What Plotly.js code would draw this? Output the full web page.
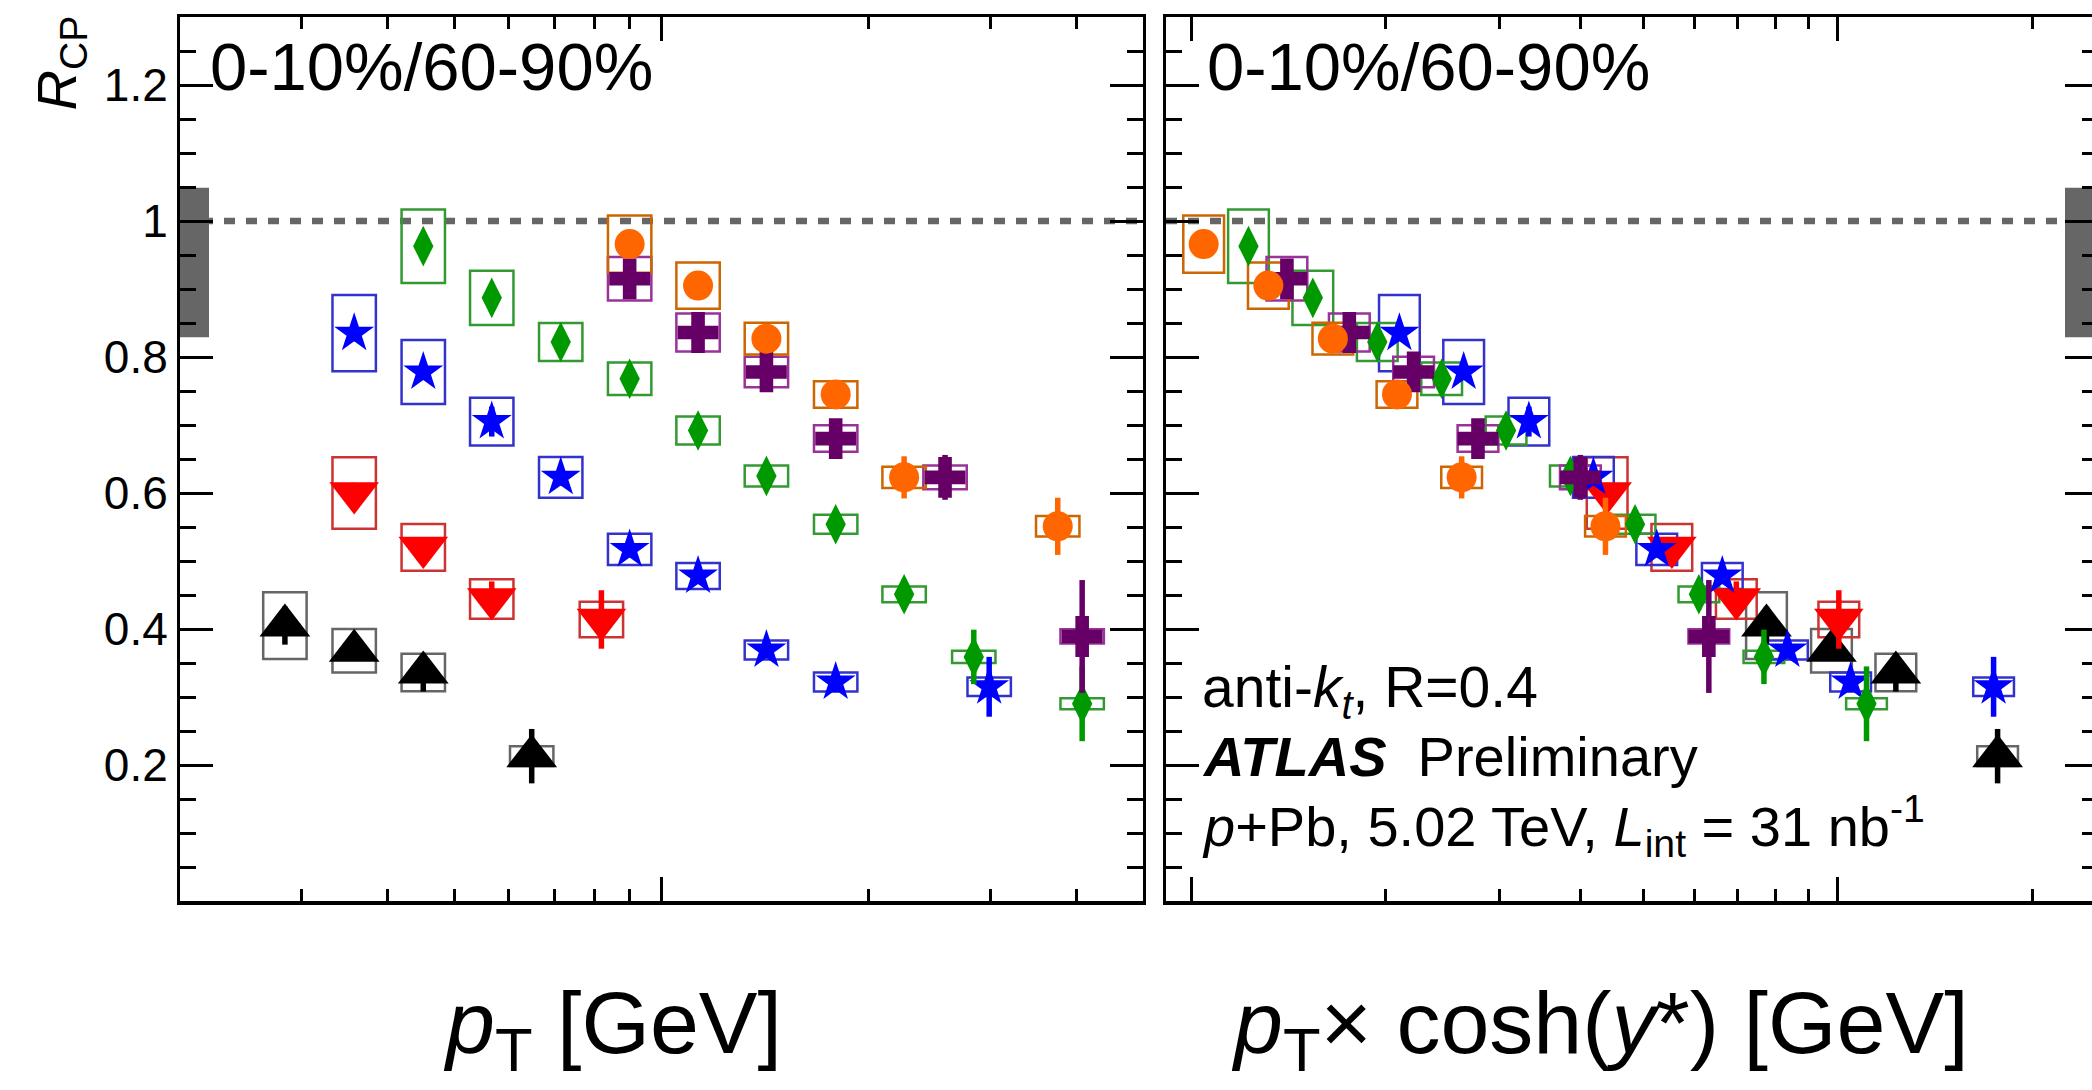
<!DOCTYPE html>
<html>
<head>
<meta charset="utf-8">
<script src="https://cdn.plot.ly/plotly-3.0.1.min.js"></script>
<style>
html,body{margin:0;padding:0;overflow:hidden;background:#ffffff;}
#chart{width:2098px;height:1090px;}
</style>
</head>
<body>
<div id="chart"></div>
<script>
// ---------------- DATA ----------------
// Left panel x: jet pT [GeV]
const ptBlack  = [28.4, 35.8, 45.1, 64.8];
const ptRed    = [35.8, 45.1, 56.7, 81.8];
const ptBlue   = [35.8, 45.1, 56.7, 71.4, 89.9, 113, 142, 179, 299];
const ptGreen  = [45.1, 56.7, 71.4, 89.9, 113, 142, 179, 225, 284, 408];
const ptPurple = [89.9, 113, 142, 179, 258, 408];
const ptOrange = [89.9, 113, 142, 179, 225, 376];

// Right panel x: pT x cosh(y*) [GeV]
const pBlack  = [776, 978, 1230, 1767];
const pRed    = [440, 554, 697, 1004];
const pBlue   = [210, 264, 333, 419, 525, 663, 836, 1047, 1742];
const pGreen  = [122.7, 154.3, 194.1, 244.1, 307, 386, 486, 610, 769, 1108];
const pPurple = [140.7, 175.7, 220.9, 277.8, 400, 632];
const pOrange = [104.6, 131.7, 165.7, 208.2, 262.1, 437.4];

// R_CP values
const rcpBlack  = [0.405, 0.368, 0.336, 0.213];
const rcpRed    = [0.600, 0.520, 0.444, 0.414];
const rcpBlue   = [0.835, 0.778, 0.705, 0.623, 0.517, 0.478, 0.369, 0.322, 0.315];
const rcpGreen  = [0.963, 0.887, 0.822, 0.768, 0.692, 0.625, 0.554, 0.451, 0.359, 0.290];
const rcpPurple = [0.915, 0.836, 0.778, 0.680, 0.623, 0.389];
const rcpOrange = [0.966, 0.905, 0.827, 0.745, 0.623, 0.551];

// statistical uncertainties (error bars)
const statBlack  = [0.028, 0.015, 0.028, 0.040];
const statRed    = [0.015, 0.015, 0.026, 0.043];
const statBlue   = [0.012, 0.012, 0.022, 0.012, 0.012, 0.012, 0.012, 0.015, 0.044];
const statGreen  = [0.010, 0.010, 0.010, 0.010, 0.012, 0.012, 0.015, 0.022, 0.040, 0.055];
const statPurple = [0.015, 0.015, 0.015, 0.018, 0.033, 0.083];
const statOrange = [0.010, 0.010, 0.010, 0.012, 0.031, 0.042];

// systematic uncertainties (boxes, half height)
const sysBlack  = [0.049, 0.032, 0.0275, 0.0145];
const sysRed    = [0.0525, 0.0345, 0.029, 0.026];
const sysBlue   = [0.056, 0.047, 0.035, 0.030, 0.023, 0.019, 0.014, 0.014, 0.0135];
const sysGreen  = [0.054, 0.040, 0.028, 0.024, 0.0205, 0.0155, 0.014, 0.0115, 0.009, 0.008];
const sysPurple = [0.032, 0.028, 0.0225, 0.0195, 0.0175, 0.0105];
const sysOrange = [0.042, 0.034, 0.0235, 0.0195, 0.0155, 0.015];

// global (normalisation) uncertainty band around unity
const globalUnc = [0.829, 1.049];

// axis ticks
const yTickVals = [0.2, 0.4, 0.6, 0.8, 1.0, 1.2];
const yTickText = ['0.2', '0.4', '0.6', '0.8', '1', '1.2'];
const yMinorVals = [0.05,0.1,0.15,0.25,0.3,0.35,0.45,0.5,0.55,0.65,0.7,0.75,0.85,0.9,0.95,1.05,1.1,1.15,1.25];
const x1Major = [100];
const x1Minor = [30,40,50,60,70,80,90,200,300,400];
const x2Major = [100, 1000];
const x2Minor = [200,300,400,500,600,700,800,900,2000];

// ---------------- LAYOUT GEOMETRY ----------------
const W = 2098, H = 1090;
const ML = 180, MR = 0, MT = 17, MB = 189;
const PW = W - ML - MR, PH = H - MT - MB;
const px2x = p => (p - ML) / PW;
const px2y = p => (H - MB - p) / PH;
const FONT = 'Liberation Sans, Arial, Helvetica, sans-serif';

const BOXF = Math.pow(10, 0.0315); // half-width of syst. boxes (log units)

const series = [
  {mk:'triangle-up',   size:44, col:'#000000', box:'#666666', pt:ptBlack,  p:pBlack,  y:rcpBlack,  stat:statBlack,  sys:sysBlack},
  {mk:'triangle-down', size:43, col:'#ff0000', box:'#cc3333', pt:ptRed,    p:pRed,    y:rcpRed,    stat:statRed,    sys:sysRed},
  {mk:'star',          size:30, col:'#0000ff', box:'#3333cc', pt:ptBlue,   p:pBlue,   y:rcpBlue,   stat:statBlue,   sys:sysBlue},
  {mk:'diamond-tall',  size:29, col:'#009900', box:'#339933', pt:ptGreen,  p:pGreen,  y:rcpGreen,  stat:statGreen,  sys:sysGreen},
  {mk:'cross',         size:34, col:'#660066', box:'#993399', pt:ptPurple, p:pPurple, y:rcpPurple, stat:statPurple, sys:sysPurple},
  {mk:'circle',        size:30, col:'#ff6600', box:'#cc6600', pt:ptOrange, p:pOrange, y:rcpOrange, stat:statOrange, sys:sysOrange}
];

const traces = [];
const shapes = [];

// reference line at unity and global uncertainty boxes
[['x','y'],['x2','y2']].forEach(([xa, ya]) => {
  shapes.push({type:'line', xref: xa + ' domain', yref: ya, x0:0, x1:1, y0:1, y1:1,
    line:{color:'#666666', width:6.5, dash:'11px,11px'}, layer:'below'});
});
shapes.push({type:'rect', xref:'x domain', yref:'y', x0:0, x1:29/963, y0:globalUnc[0], y1:globalUnc[1],
  fillcolor:'#666666', line:{width:0}, layer:'below'});
shapes.push({type:'rect', xref:'x2 domain', yref:'y2', x0:1 - 33/932, x1:1, y0:globalUnc[0], y1:globalUnc[1],
  fillcolor:'#666666', line:{width:0}, layer:'below'});

series.forEach(s => {
  [['x','y', s.pt], ['x2','y2', s.p]].forEach(([xa, ya, xs]) => {
    xs.forEach((xv, i) => {
      shapes.push({type:'rect', xref:xa, yref:ya,
        x0: xv / BOXF, x1: xv * BOXF, y0: s.y[i] - s.sys[i], y1: s.y[i] + s.sys[i],
        line:{color:s.box, width:2.5}, fillcolor:'rgba(0,0,0,0)', layer:'below'});
    });
    traces.push({
      type:'scatter', mode:'markers', x: xs, y: s.y, xaxis: xa, yaxis: ya,
      marker:{symbol:s.mk, size:s.size, color:s.col, line:{width:0}},
      error_y:{type:'data', array:s.stat, visible:true, color:s.col, thickness:5.5, width:0},
      showlegend:false, hoverinfo:'skip'
    });
  });
});

const yCommon = {
  range:[0, 1.3], domain:[0, 1], showgrid:false, zeroline:false,
  tickmode:'array', tickvals:yTickVals, ticktext:yTickText,
  ticks:'inside', ticklen:33, tickwidth:3, tickcolor:'#000',
  minor:{tickmode:'array', tickvals:yMinorVals, ticks:'inside', ticklen:16, tickwidth:3, tickcolor:'#000'},
  showline:true, linewidth:3, linecolor:'#000', mirror:'ticks',
  tickfont:{family:FONT, size:46, color:'#000'}
};
const xCommon = {
  type:'log', showgrid:false, zeroline:false, showticklabels:false,
  tickmode:'array', ticks:'inside', ticklen:24, tickwidth:3, tickcolor:'#000',
  showline:true, linewidth:3.5, linecolor:'#000', mirror:'ticks'
};

const ann = (px, py, text, size, xanchor, yanchor, extra) => Object.assign({
  xref:'paper', yref:'paper', x: px2x(px), y: px2y(py), text: text, showarrow:false,
  xanchor: xanchor, yanchor: yanchor, font:{family:FONT, size:size, color:'#000'}
}, extra || {});

const annotations = [
  ann(60, 62.5, '<i>R</i><sub>CP</sub>', 56, 'center', 'middle', {textangle:-90}),
  ann(208, 66.5, '0-10%/60-90%', 67, 'left', 'middle'),
  ann(1205, 66.5, '0-10%/60-90%', 67, 'left', 'middle'),
  ann(1200, 690.6, 'anti-<i>k</i><sub><i>t</i></sub>, R=0.4', 57, 'left', 'middle'),
  ann(1200, 756.6, '<b><i>ATLAS</i></b>\u00a0 Preliminary', 56, 'left', 'middle'),
  ann(1200, 825.6, '<i>p</i>+Pb, 5.02 TeV, <i>L</i><sub>int</sub> = 31 nb<sup>-1</sup>', 56, 'left', 'middle'),
  ann(612, 1028, '<i>p</i><sub>T</sub> [GeV]', 88, 'center', 'middle'),
  ann(1600, 1028, '<i>p</i><sub>T</sub>\u00d7 cosh(<i>y</i>*) [GeV]', 88, 'center', 'middle')
];

const layout = {
  width: W, height: H,
  margin:{l:ML, r:MR, t:MT, b:MB, pad:0},
  paper_bgcolor:'#ffffff', plot_bgcolor:'#ffffff',
  showlegend:false,
  font:{family:FONT, color:'#000'},
  xaxis: Object.assign({}, xCommon, {
    domain:[0, (1143 - ML) / PW], anchor:'y',
    range:[Math.log10(20), Math.log10(500)],
    tickvals:x1Major,
    minor:{tickmode:'array', tickvals:x1Minor, ticks:'inside', ticklen:12, tickwidth:3, tickcolor:'#000'}
  }),
  xaxis2: Object.assign({}, xCommon, {
    domain:[(1166 - ML) / PW, 1], anchor:'y2',
    range:[1.9613, 3.4025],
    tickvals:x2Major,
    minor:{tickmode:'array', tickvals:x2Minor, ticks:'inside', ticklen:12, tickwidth:3, tickcolor:'#000'}
  }),
  yaxis: Object.assign({}, yCommon, {anchor:'x'}),
  yaxis2: Object.assign({}, yCommon, {anchor:'x2', showticklabels:false}),
  shapes: shapes,
  annotations: annotations
};

Plotly.newPlot('chart', traces, layout, {staticPlot:true, displayModeBar:false, responsive:false});
</script>
</body>
</html>
